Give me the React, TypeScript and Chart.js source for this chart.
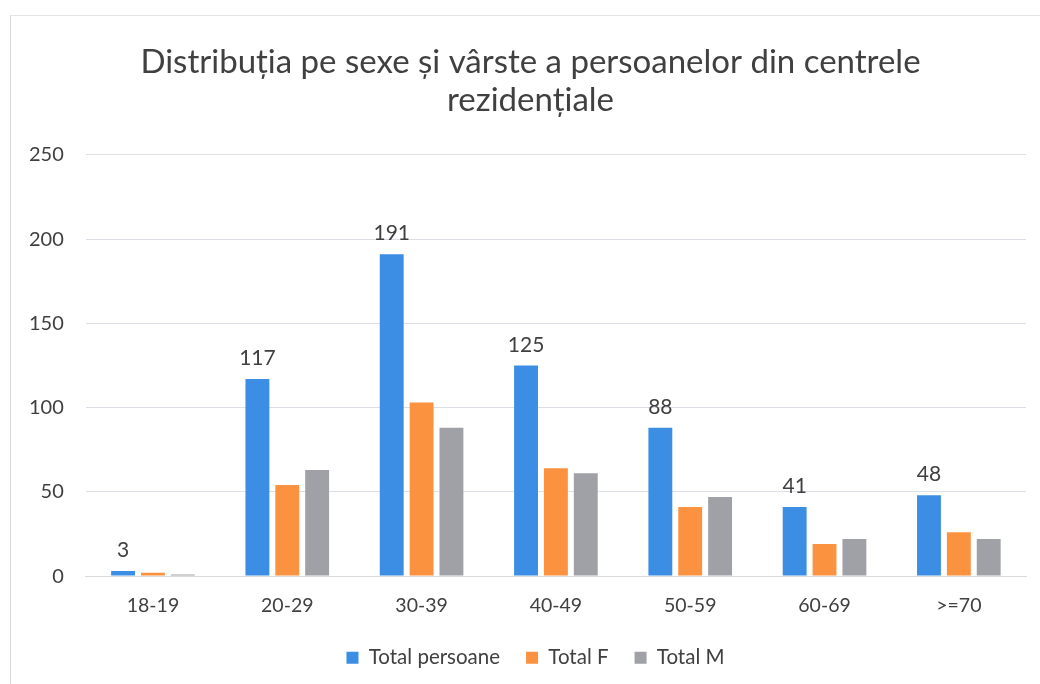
import React, { useEffect, useRef } from "react";
import { Chart, registerables } from "chart.js";

Chart.register(...registerables);

const categories = ["18-19", "20-29", "30-39", "40-49", "50-59", "60-69", ">=70"];
const totalPersoane = [3, 117, 191, 125, 88, 41, 48];
const totalF = [2, 54, 103, 64, 41, 19, 26];
const totalM = [1, 63, 88, 61, 47, 22, 22];
const seriesNames = ["Total persoane", "Total F", "Total M"];
const titleLines = ["Distribuția pe sexe și vârste a persoanelor din centrele", "rezidențiale"];

const FONT = "Lato, 'Open Sans', sans-serif";

const labelPlugin = {
  id: "valueLabels",
  afterDatasetsDraw(chart: any) {
    const ctx = chart.ctx;
    const meta = chart.getDatasetMeta(0);
    const data = chart.data.datasets[0].data;
    ctx.save();
    ctx.font = `21px ${FONT}`;
    ctx.fillStyle = "#404040";
    ctx.textAlign = "center";
    ctx.textBaseline = "alphabetic";
    meta.data.forEach((bar: any, i: number) => {
      ctx.fillText(String(data[i]), bar.x, bar.y - 14);
    });
    ctx.restore();
  },
};

// shift the title and legend blocks so they sit like in the original frame
const blockShiftPlugin = {
  id: "blockShift",
  afterLayout(chart: any) {
    const t = chart.titleBlock;
    if (t) {
      t.left += 14;
      t.right += 14;
    }
    const l = chart.legend;
    if (l) {
      l.left += 19;
      l.right += 19;
      l.top -= 14;
      l.bottom -= 14;
    }
  },
};

export default function App() {
  const ref = useRef<HTMLCanvasElement>(null);
  useEffect(() => {
    if (!ref.current) return;
    const chart = new Chart(ref.current, {
      type: "bar",
      data: {
        labels: categories,
        datasets: [
          { label: seriesNames[0], data: totalPersoane, backgroundColor: "#3B8EE3" },
          { label: seriesNames[1], data: totalF, backgroundColor: "#FB923F" },
          { label: seriesNames[2], data: totalM, backgroundColor: "#9FA1A6" },
        ],
      },
      options: {
        animation: false,
        responsive: false,
        maintainAspectRatio: false,
        datasets: { bar: { categoryPercentage: 0.667, barPercentage: 0.8 } },
        layout: { padding: { left: 7, right: 14, top: 0, bottom: 0 } },
        plugins: {
          title: {
            display: true,
            text: titleLines,
            color: "#404040",
            font: { family: FONT, size: 33, weight: "normal", lineHeight: 1.15 },
            padding: { top: 43, bottom: 36 },
          },
          legend: {
            position: "bottom",
            labels: {
              boxWidth: 12,
              boxHeight: 12,
              color: "#404040",
              font: { family: FONT, size: 20.5 },
              padding: 26,
            },
          },
          tooltip: { enabled: false },
        },
        scales: {
          x: {
            grid: { display: false, drawTicks: false },
            border: { display: true, color: "#D9D9D9" },
            ticks: { color: "#404040", font: { family: FONT, size: 19.5 }, padding: 18 },
          },
          y: {
            min: 0,
            max: 250,
            ticks: { stepSize: 50, color: "#404040", font: { family: FONT, size: 20 }, padding: 22 },
            grid: { color: "#DCDFE6", drawTicks: false },
            border: { display: false },
          },
        },
      },
      plugins: [labelPlugin, blockShiftPlugin],
    });
    return () => chart.destroy();
  }, []);
  return (
    <div style={{ position: "fixed", left: 0, top: 0, width: 1040, height: 684, background: "#fff", overflow: "hidden" }}>
      <div
        style={{
          position: "absolute",
          left: 10,
          top: 15,
          width: 1030,
          height: 669,
          borderLeft: "1px solid #DADADA",
          borderTop: "1px solid #E4E4E4",
        }}
      />
      <canvas ref={ref} width={1040} height={692} style={{ position: "absolute", left: 0, top: 0 }} />
    </div>
  );
}
